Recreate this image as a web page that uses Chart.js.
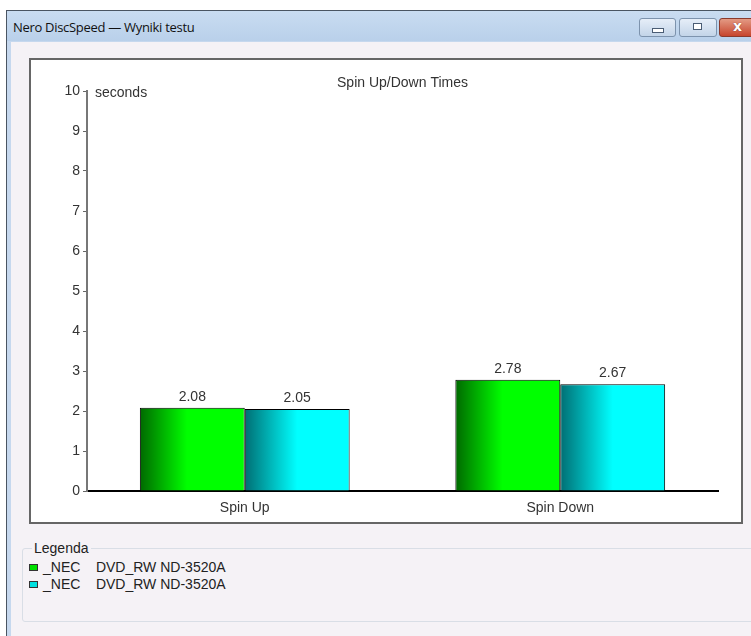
<!DOCTYPE html>
<html>
<head>
<meta charset="utf-8">
<title>Nero DiscSpeed — Wyniki testu</title>
<script src="https://cdn.jsdelivr.net/npm/chart.js@4.4.1/dist/chart.umd.min.js"></script>
<style>
  html, body { margin: 0; padding: 0; background: #fff; overflow: hidden; }
  body { width: 751px; height: 636px; position: relative; font-family: "Liberation Sans", Arial, sans-serif; }
  .win { position: absolute; left: 6px; top: 10px; width: 760px; height: 640px; border-left: 1px solid #4a5562; border-top: 1px solid #4a5562; background: #c6d8ee; }
  .titlebar { position: absolute; left: 0; top: 0; right: 0; height: 30px; background: linear-gradient(#c9dcf1, #b9d0ea); }
  .titlebar .caption { position: absolute; left: 6px; top: 7px; font: 13px "Open Sans", "Noto Sans", sans-serif; color: #111; letter-spacing: -0.3px; }
  .btn { position: absolute; top: 7px; height: 17px; border: 1px solid #7d93ad; border-radius: 3px; background: linear-gradient(#e6eef8, #c3d4e8); }
  .btn.min { left: 632px; width: 35px; }
  .btn.max { left: 672px; width: 36px; }
  .btn.close { left: 712px; width: 40px; border-color: #8b3a2c; background: linear-gradient(#e39a84, #c7452d); }
  .btn.min i { position: absolute; left: 12px; top: 9px; width: 10px; height: 3px; background: #fff; border: 1px solid #4a5c74; }
  .btn.max i { position: absolute; left: 13px; top: 4px; width: 7px; height: 5px; border: 1px solid #4a5c74; box-shadow: inset 0 0 0 1px #fff; background: #fff; }
  .btn.close i { position: absolute; left: 13px; top: -1px; color: #fff; font: bold 14px "DejaVu Sans", sans-serif; text-shadow: 0 0 1px #6b1d10; }
  .client { position: absolute; left: 4px; top: 31px; right: 0; bottom: 0; background: #f5f2f6; }
  .panel { position: absolute; left: 29px; top: 58px; width: 710px; height: 462px; border: 2px solid #666; background: #fff; }
  .panel canvas { position: absolute; left: 0; top: 0; }
  .group { position: absolute; left: 22px; top: 548px; width: 740px; height: 72px; border: 1px solid #d9dee6; border-radius: 3px; }
  .gtitle { position: absolute; left: 9px; top: -9px; padding: 0 2px; background: #f5f2f6; font-size: 14px; color: #222; }
  #legend { position: absolute; left: 29px; top: 559px; font-size: 14px; color: #222; }
  #legend .row { height: 17px; line-height: 17px; white-space: pre; position: relative; padding-left: 14px; }
  #legend .sw { position: absolute; left: 0; top: 5px; width: 7px; height: 5px; border: 1px solid #333; }
</style>
</head>
<body>
<div class="win">
  <div class="titlebar">
    <div class="caption">Nero DiscSpeed — Wyniki testu</div>
    <div class="btn min"><i></i></div>
    <div class="btn max"><i></i></div>
    <div class="btn close"><i>x</i></div>
  </div>
  <div class="client"></div>
</div>
<div class="panel"><canvas id="myChart" width="710" height="462"></canvas></div>
<div class="group"><span class="gtitle">Legenda</span></div>
<div id="legend"></div>

<script>
// values
const categories = ['Spin Up', 'Spin Down'];
const driveNames = ['_NEC    DVD_RW ND-3520A', '_NEC    DVD_RW ND-3520A'];
const firstDrive = [2.08, 2.78];
const secondDrive = [2.05, 2.67];
const yTicks = [0, 1, 2, 3, 4, 5, 6, 7, 8, 9, 10];
const chartTitle = 'Spin Up/Down Times';
const unitLabel = 'seconds';

// bar shading (dark edge on the left, flat colour on the right)
const shades = [
  [[0, 'rgb(0,105,0)'], [0.45, 'rgb(0,255,0)'], [1, 'rgb(0,255,0)']],
  [[0, 'rgb(0,110,115)'], [0.5, 'rgb(0,255,255)'], [1, 'rgb(0,255,255)']]
];
const swatchColors = ['#00e000', '#00e0e0'];

const textFont = { family: '"Liberation Sans", Arial, sans-serif', size: 14 };

const gradientBars = {
  id: 'gradientBars',
  beforeDatasetsDraw(chart) {
    const ctx = chart.ctx;
    chart.data.datasets.forEach((ds, i) => {
      chart.getDatasetMeta(i).data.forEach(bar => {
        const g = ctx.createLinearGradient(bar.x - bar.width / 2, 0, bar.x + bar.width / 2, 0);
        shades[i].forEach(s => g.addColorStop(s[0], s[1]));
        // options are shared between bars of a dataset, so give each its own copy
        bar.options = Object.assign({}, bar.options, { backgroundColor: g });
      });
    });
  }
};

const valueLabels = {
  id: 'valueLabels',
  afterDatasetsDraw(chart) {
    const ctx = chart.ctx;
    ctx.save();
    ctx.font = textFont.size + 'px ' + textFont.family;
    ctx.fillStyle = '#333';
    ctx.textAlign = 'center';
    ctx.textBaseline = 'bottom';
    chart.data.datasets.forEach((ds, i) => {
      chart.getDatasetMeta(i).data.forEach((bar, j) => {
        ctx.fillText(ds.data[j].toFixed(2), bar.x, bar.y - 4);
      });
    });
    ctx.restore();
  }
};

// title centred over the plot area, and the unit next to the top tick
const chartTexts = {
  id: 'chartTexts',
  afterDraw(chart) {
    const ctx = chart.ctx;
    const area = chart.chartArea;
    const y = chart.scales.y;
    ctx.save();
    ctx.font = textFont.size + 'px ' + textFont.family;
    ctx.fillStyle = '#333';
    ctx.textBaseline = 'middle';
    ctx.textAlign = 'center';
    ctx.fillText(chartTitle, (area.left + area.right) / 2, area.top - 8);
    ctx.textAlign = 'left';
    ctx.fillText(unitLabel, area.left + 8, y.getPixelForValue(yTicks[yTicks.length - 1]) + 2);
    ctx.restore();
  }
};

const chart = new Chart(document.getElementById('myChart'), {
  type: 'bar',
  data: {
    labels: categories,
    datasets: [
      { label: driveNames[0], data: firstDrive, backgroundColor: swatchColors[0], borderColor: '#000', borderWidth: 1 },
      { label: driveNames[1], data: secondDrive, backgroundColor: swatchColors[1], borderColor: '#000', borderWidth: 1 }
    ]
  },
  options: {
    responsive: false,
    animation: false,
    devicePixelRatio: 1,
    layout: { padding: { left: 0, right: 23, top: 31, bottom: 0 } },
    datasets: {
      bar: { categoryPercentage: 0.665, barPercentage: 1 }
    },
    plugins: {
      legend: { display: false },
      tooltip: { enabled: false },
      title: { display: false }
    },
    scales: {
      x: {
        grid: { drawOnChartArea: false, drawTicks: false },
        border: { color: '#000', width: 2 },
        ticks: { color: '#333', font: textFont, padding: 9 },
        afterFit: s => { s.height = 31; }
      },
      y: {
        min: yTicks[0],
        max: yTicks[yTicks.length - 1],
        afterBuildTicks: s => { s.ticks = yTicks.map(v => ({ value: v })); },
        grid: { drawOnChartArea: false, tickLength: 4, color: '#666' },
        border: { color: '#777', width: 2 },
        ticks: { color: '#333', font: textFont, padding: 3 },
        afterFit: s => { s.width = 56; }
      }
    }
  },
  plugins: [gradientBars, valueLabels, chartTexts]
});

// legend in the "Legenda" group box, built from the datasets
const legendBox = document.getElementById('legend');
chart.data.datasets.forEach((ds, i) => {
  const row = document.createElement('div');
  row.className = 'row';
  const sw = document.createElement('span');
  sw.className = 'sw';
  sw.style.background = swatchColors[i];
  row.appendChild(sw);
  row.appendChild(document.createTextNode(ds.label));
  legendBox.appendChild(row);
});
</script>
</body>
</html>
